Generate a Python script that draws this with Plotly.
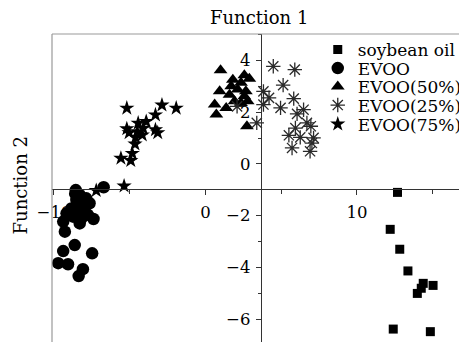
import plotly.graph_objects as go

# ---------------- data ----------------
soy_x = [12.68, 12.20, 12.83, 13.37, 14.38, 14.25, 15.03, 13.99, 12.40, 14.85]
soy_y = [-1.10, -2.53, -3.30, -4.14, -4.62, -4.81, -4.70, -5.01, -6.39, -6.49]

evoo_x = [-6.72, -8.56, -8.30, -7.87, -8.52, -7.65, -8.09, -8.85, -8.41, -9.17, -7.76, -8.74,
          -8.19, -7.39, -9.39, -8.30, -9.28, -8.63, -9.39, -7.48, -9.72, -9.07, -8.09, -8.37,
          -8.60, -8.00]
evoo_y = [-0.90, -1.01, -1.20, -1.33, -1.39, -1.52, -1.65, -1.72, -1.85, -1.91, -1.97, -2.04,
          -2.10, -2.13, -2.23, -2.30, -2.62, -3.14, -3.37, -3.46, -3.84, -3.88, -4.07, -4.34,
          -1.15, -1.80]

e50_x = [1.00, 2.57, 2.90, 1.81, 2.35, 1.70, 0.94, 2.13, 2.67, 1.59, 2.57, 0.61, 1.37, 2.35,
         0.72, 2.74, 1.92, 2.79]
e50_y = [3.63, 3.43, 3.30, 3.26, 3.14, 3.01, 2.81, 2.88, 2.81, 2.68, 2.62, 2.30, 2.17, 2.36,
         1.91, 1.46, 2.43, 2.43]

e25_x = [4.48, 5.90, 5.13, 3.83, 4.20, 5.83, 3.83, 2.09, 4.96, 6.48, 6.05, 3.39, 6.70, 6.96,
         5.94, 5.51, 6.26, 7.14, 7.03, 5.72, 6.91]
e25_y = [3.78, 3.65, 3.05, 2.81, 2.56, 2.53, 2.30, 2.23, 2.17, 2.10, 1.94, 1.59, 1.59, 1.46,
         1.39, 1.11, 1.03, 1.01, 0.81, 0.62, 0.49]

e75_x = [-5.19, -2.87, -1.93, -3.30, -3.91, -4.44, -5.19, -5.04, -4.50, -4.11, -4.17, -3.30,
         -3.15, -4.61, -4.65, -4.83, -5.58, -4.93, -5.37, -7.21]
e75_y = [2.16, 2.28, 2.16, 1.90, 1.64, 1.58, 1.36, 1.21, 1.25, 1.38, 1.12, 1.32,
         1.21, 1.03, 0.77, 0.41, 0.22, 0.13, -0.85, -1.03]

x_tickvals = [-10, 0, 10]
y_tickvals = [-6, -4, -2, 0, 2, 4]

# axis ranges and crossing point
X_RANGE = [-10.13, 16.94]
Y_RANGE = [-6.89, 5.03]
CROSS_X = 3.65
CROSS_Y = -0.97

# the page body adds an 8px offset; the figure is sized to fill the window after it
OFF = 8
W, H = 467 - OFF, 342 - OFF
ML, MT = 52 - OFF, 34 - OFF
PW, PH = W - ML, H - MT

def px_to_paper_x(px):
    return (px - OFF - ML) / PW

def py_to_paper_y(py):
    return (H - (py - OFF)) / PH

FONT = "DejaVu Serif"

fig = go.Figure()

series = [
    ("soybean oil", soy_x, soy_y, dict(symbol="square", size=9, color="black")),
    ("EVOO", evoo_x, evoo_y, dict(symbol="circle", size=12.5, color="black")),
    ("EVOO(50%)", e50_x, e50_y, dict(symbol="triangle-up", size=12, color="black")),
    ("EVOO(25%)", e25_x, e25_y, dict(symbol="asterisk-open", size=12, color="#2a2a2a",
                                     line=dict(color="#2a2a2a", width=1.3))),
    ("EVOO(75%)", e75_x, e75_y, dict(symbol="star", size=11.5, color="black")),
]

legend_rows_py = [50, 68.5, 87, 105.5, 124.5]
legend_names = ["legend", "legend2", "legend3", "legend4", "legend5"]

for i, (name, xs, ys, mk) in enumerate(series):
    fig.add_trace(go.Scatter(x=xs, y=ys, mode="markers", name=name, marker=mk,
                             legend=legend_names[i], showlegend=True))

layout_legends = {}
for i, ln in enumerate(legend_names):
    layout_legends[ln] = dict(
        x=px_to_paper_x(321), y=py_to_paper_y(legend_rows_py[i]),
        xanchor="left", yanchor="middle",
        bgcolor="rgba(0,0,0,0)", borderwidth=0,
        font=dict(family=FONT, size=17, color="black"),
        itemwidth=30, tracegroupgap=0,
    )

fig.update_layout(
    width=W, height=H,
    margin=dict(l=ML, r=0, t=MT, b=0),
    plot_bgcolor="white", paper_bgcolor="white",
    font=dict(family=FONT, size=16, color="black"),
    **layout_legends,
    xaxis=dict(
        range=X_RANGE, anchor="free",
        position=(CROSS_Y - Y_RANGE[0]) / (Y_RANGE[1] - Y_RANGE[0]),
        showline=True, linecolor="#333", linewidth=1,
        showgrid=False, zeroline=False,
        tickvals=x_tickvals, ticktext=["\u221210", "0", "10"],
        ticks="outside", ticklen=5, tickcolor="#333", tickwidth=1,
        minor=dict(dtick=5, tick0=0, ticks="outside", ticklen=4, tickcolor="#333"),
        tickfont=dict(family=FONT, size=16.5, color="black"),
        ticklabelstandoff=3,
    ),
    yaxis=dict(
        range=Y_RANGE, anchor="free",
        position=(CROSS_X - X_RANGE[0]) / (X_RANGE[1] - X_RANGE[0]),
        showline=True, linecolor="#333", linewidth=1,
        showgrid=False, zeroline=False,
        tickvals=y_tickvals, ticktext=["\u22126", "\u22124", "\u22122", "0", "2", "4"],
        ticks="outside", ticklen=5, tickcolor="#333", tickwidth=1,
        minor=dict(dtick=1, tick0=0, ticks="outside", ticklen=3, tickcolor="#333"),
        tickfont=dict(family=FONT, size=16.5, color="black"),
        ticklabelstandoff=2,
    ),
    shapes=[
        dict(type="line", xref="paper", yref="paper", x0=0, x1=1, y0=1, y1=1,
             line=dict(color="#999", width=1.2)),
        dict(type="line", xref="paper", yref="paper", x0=0, x1=0, y0=0, y1=1,
             line=dict(color="#999", width=1.2)),
    ],
    annotations=[
        dict(text="Function 1", xref="paper", yref="paper",
             x=px_to_paper_x(261.5), y=py_to_paper_y(18), xanchor="center", yanchor="middle",
             showarrow=False, font=dict(family=FONT, size=18, color="black")),
        dict(text="Function 2", xref="paper", yref="paper",
             x=px_to_paper_x(20), y=py_to_paper_y(185), xanchor="center", yanchor="middle",
             textangle=-90, showarrow=False, font=dict(family=FONT, size=18, color="black")),
    ],
)

fig.write_html("out.html")
